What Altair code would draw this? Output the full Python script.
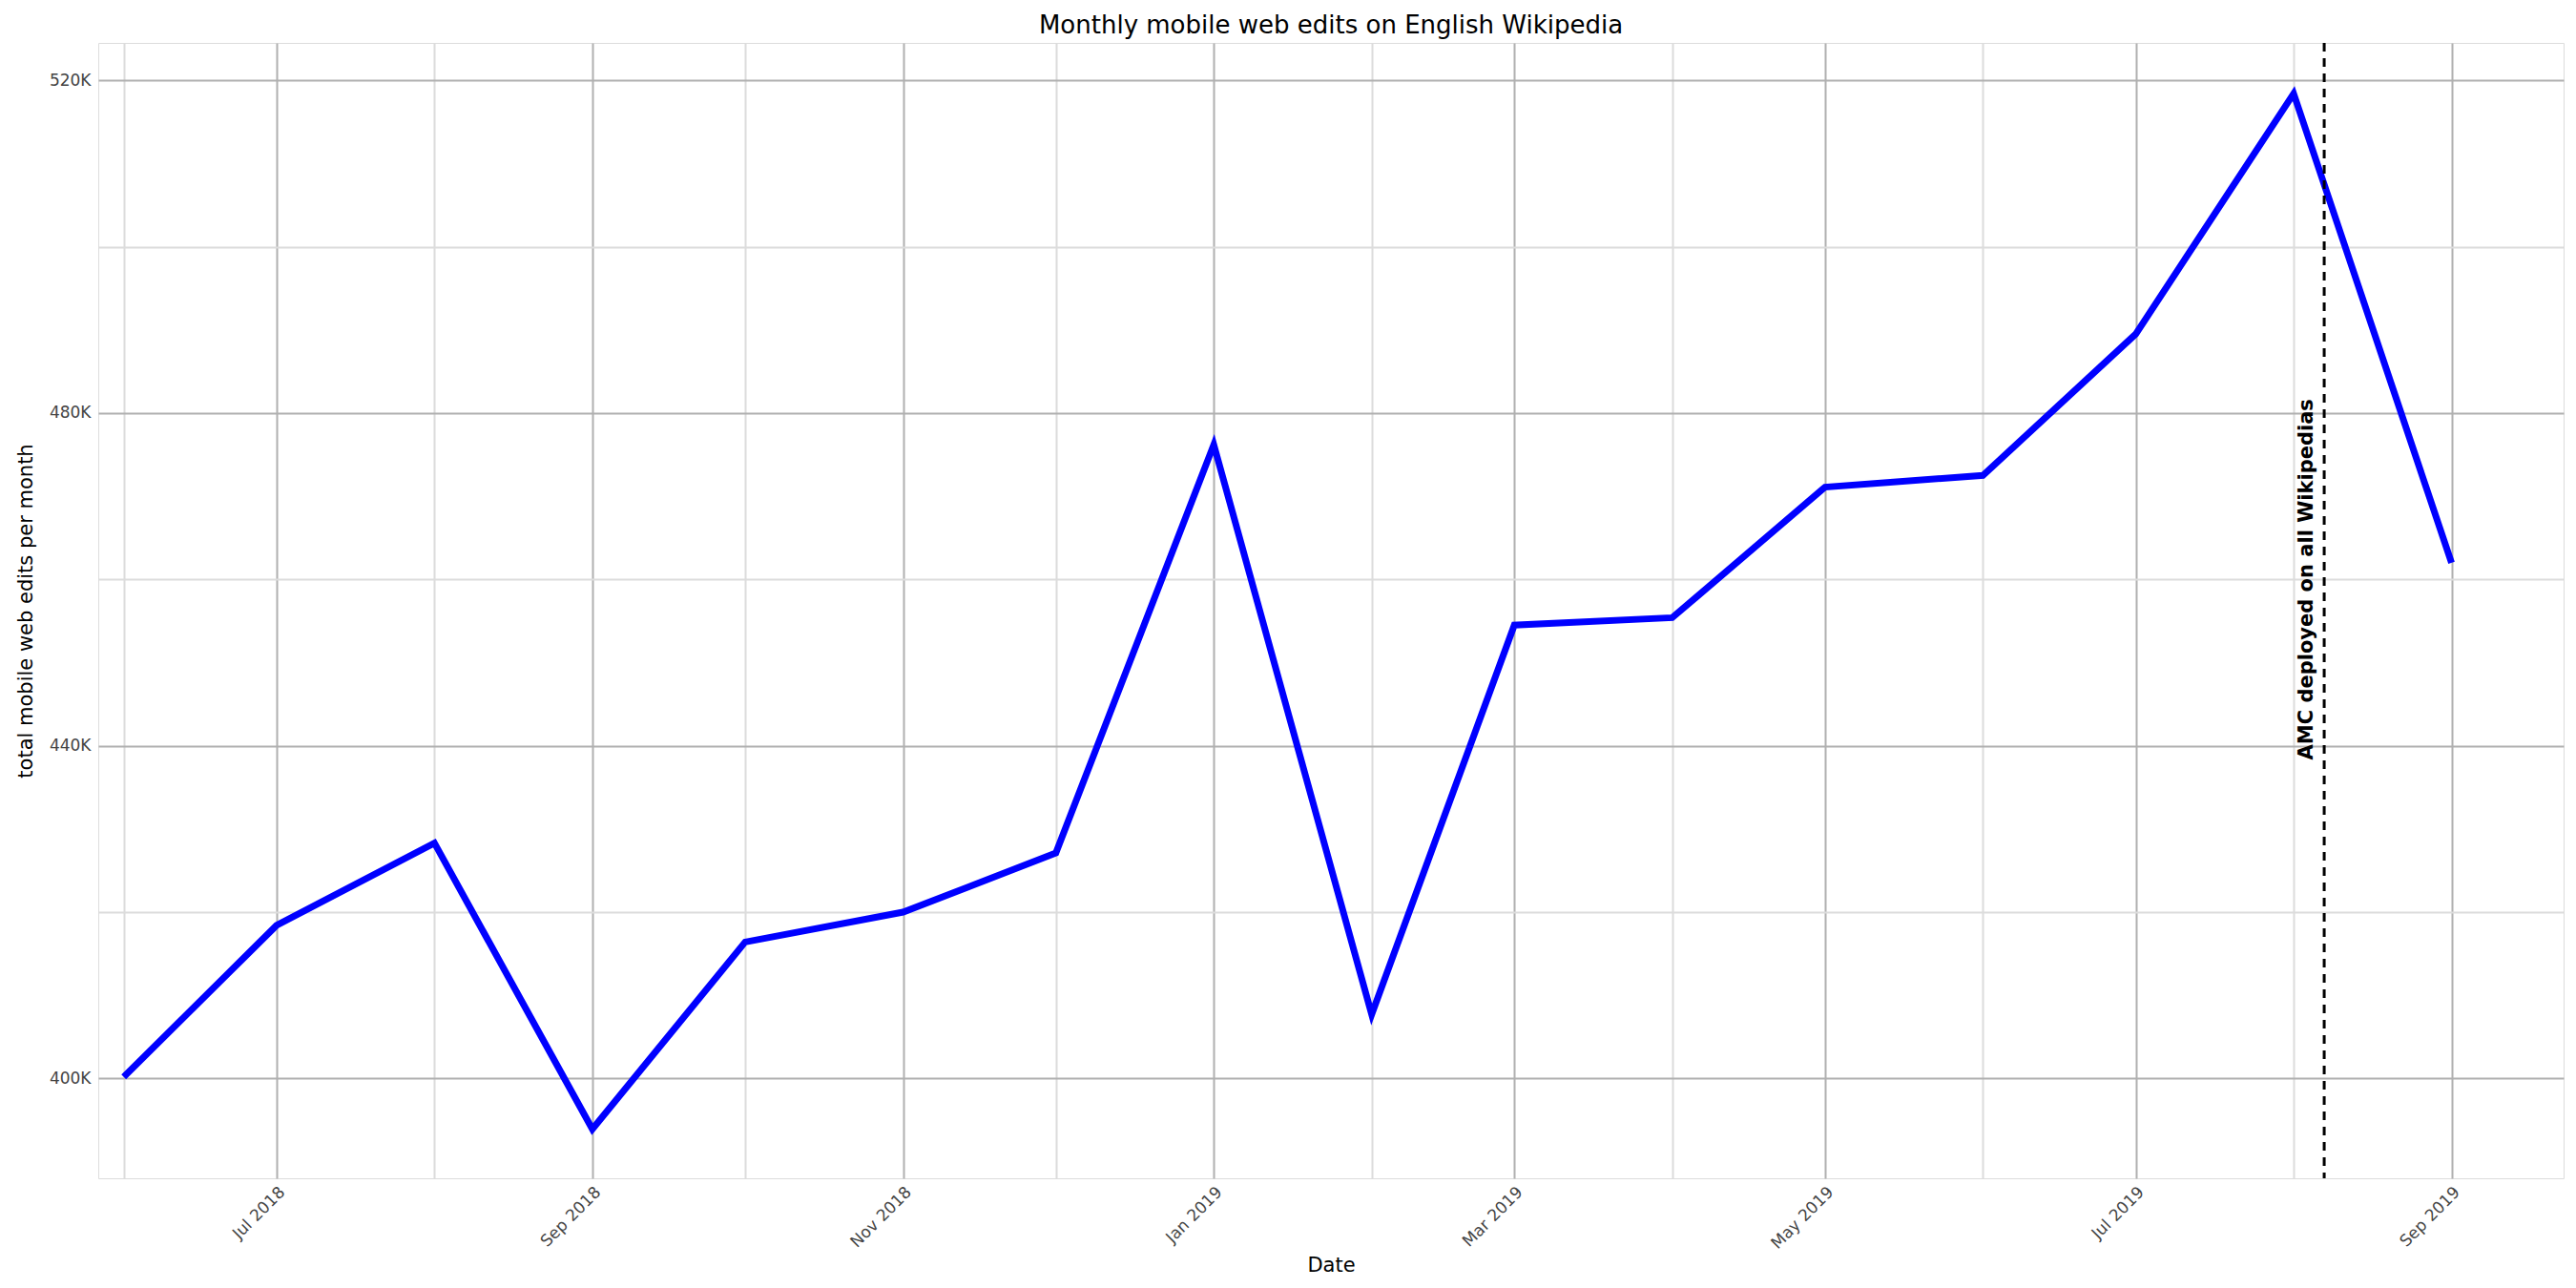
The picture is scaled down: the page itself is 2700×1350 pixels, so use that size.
import altair as alt
import pandas as pd

months = ["2018-06-01","2018-07-01","2018-08-01","2018-09-01","2018-10-01","2018-11-01",
          "2018-12-01","2019-01-01","2019-02-01","2019-03-01","2019-04-01","2019-05-01",
          "2019-06-01","2019-07-01","2019-08-01","2019-09-01"]
edits = [400200, 418400, 428300, 393900, 416400, 420000, 427100, 476200, 407700,
         454500, 455400, 471100, 472500, 489500, 518400, 462000]
deploy_date = ["2019-08-07"]
deploy_label = ["AMC deployed on all Wikipedias"]
y_ticks = [400000, 420000, 440000, 460000, 480000, 500000, 520000]

df = pd.DataFrame({"date": months, "edits": edits})
ev = pd.DataFrame({"date": deploy_date, "label": deploy_label, "y": [460000]})

xscale = alt.Scale(type="utc", domain=["2018-05-27", "2019-09-23"])
yscale = alt.Scale(domain=[388000, 524500], nice=False, zero=False)

xaxis = alt.Axis(
    values=months, title="Date", labelAngle=-45, labelAlign="right",
    labelExpr="utcmonth(datum.value) % 2 == 0 ? utcFormat(datum.value, '%b %Y') : ''",
    gridColor={"condition": {"test": "utcmonth(datum.value) % 2 == 0", "value": "#b0b0b0"}, "value": "#dcdcdc"},
    gridWidth=2, domain=False, ticks=False, labelFontSize=17, titleFontSize=21,
    titleFontWeight="normal", labelColor="#444", titleColor="#000", labelPadding=6)
yaxis = alt.Axis(
    values=y_ticks, title="total mobile web edits per month",
    labelExpr="datum.value % 40000 == 0 ? format(datum.value/1000, 'd') + 'K' : ''",
    gridColor={"condition": {"test": "datum.value % 40000 == 0", "value": "#b0b0b0"}, "value": "#dcdcdc"},
    gridWidth=2, domain=False, ticks=False, labelFontSize=17, titleFontSize=21,
    titleFontWeight="normal", labelColor="#444", titleColor="#000", labelPadding=8, titlePadding=14)

line = alt.Chart(df).mark_line(color="#0000ff", strokeWidth=7).encode(
    x=alt.X("date:T", scale=xscale, axis=xaxis),
    y=alt.Y("edits:Q", scale=yscale, axis=yaxis))

rule = alt.Chart(ev).mark_rule(color="black", strokeDash=[9, 7], strokeWidth=3).encode(
    x=alt.X("date:T", scale=xscale))

text = alt.Chart(ev).mark_text(angle=270, fontSize=21, fontWeight="bold", dy=-18, color="black").encode(
    x=alt.X("date:T", scale=xscale), y=alt.Y("y:Q", scale=yscale), text="label:N")

chart = alt.layer(line, rule, text).properties(
    width=2684, height=1334,
    padding={"left": 8, "right": 5, "top": 5, "bottom": 5},
    title=alt.Title("Monthly mobile web edits on English Wikipedia", fontSize=26, fontWeight="normal"),
    autosize=alt.AutoSizeParams(type="fit", contains="padding")
).configure_view(stroke=None).configure(font="DejaVu Sans")

chart.save("out.html", embed_options={"renderer": "svg", "actions": False})
